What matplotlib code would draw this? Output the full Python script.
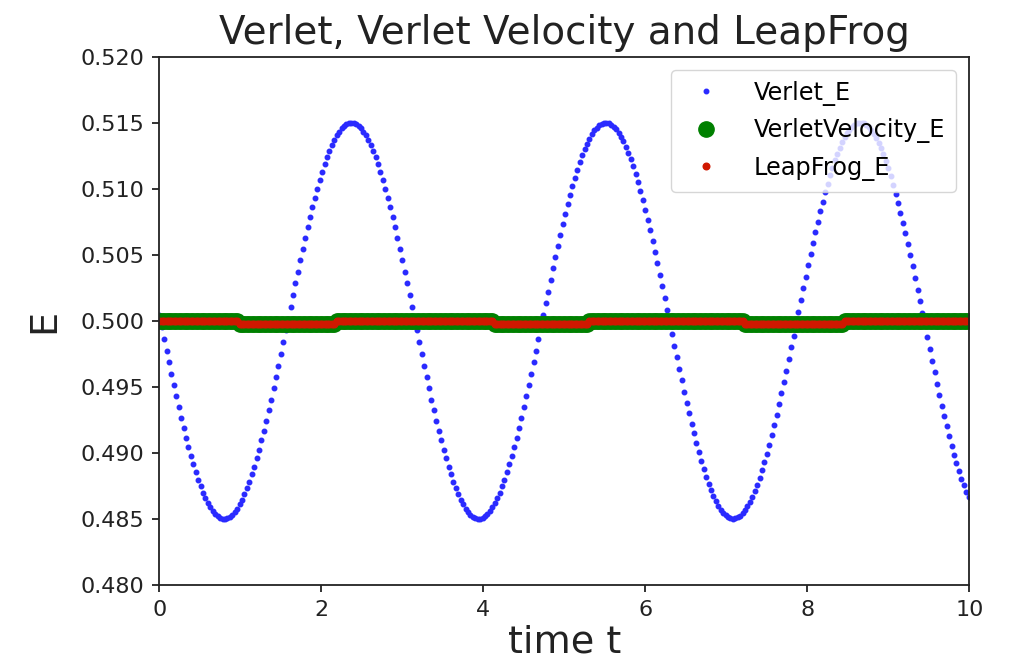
import numpy as np
import matplotlib
matplotlib.use("Agg")
import matplotlib.pyplot as plt

# energy samples, one every dt in time
dt = 0.03
verlet_E = [
    0.50041, 0.49951, 0.49862, 0.49772, 0.49684, 0.49596, 0.49510, 0.49426, 0.49344, 0.49264,
    0.49187, 0.49113, 0.49042, 0.48975, 0.48911, 0.48851, 0.48795, 0.48744, 0.48697, 0.48654,
    0.48617, 0.48585, 0.48557, 0.48535, 0.48518, 0.48507, 0.48501,
    0.48500, 0.48505, 0.48515, 0.48530, 0.48551, 0.48577, 0.48608, 0.48644, 0.48685, 0.48730,
    0.48781, 0.48835, 0.48894, 0.48957, 0.49023, 0.49093, 0.49166, 0.49243, 0.49322, 0.49403,
    0.49487, 0.49572, 0.49659, 0.49747, 0.49837, 0.49926,
    0.50016, 0.50106, 0.50196, 0.50285, 0.50372, 0.50459, 0.50544, 0.50626, 0.50707, 0.50785,
    0.50860, 0.50932, 0.51001, 0.51066, 0.51128, 0.51185, 0.51238, 0.51287, 0.51331, 0.51370,
    0.51404, 0.51433, 0.51457, 0.51476, 0.51489, 0.51497, 0.51500,
    0.51497, 0.51489, 0.51476, 0.51457, 0.51433, 0.51404, 0.51370, 0.51331, 0.51287, 0.51238,
    0.51185, 0.51128, 0.51066, 0.51001, 0.50932, 0.50860, 0.50785, 0.50707, 0.50626, 0.50544,
    0.50459, 0.50372, 0.50284, 0.50196, 0.50106, 0.50016,
    0.49926, 0.49836, 0.49747, 0.49659, 0.49572, 0.49487, 0.49403, 0.49322, 0.49243, 0.49166,
    0.49093, 0.49023, 0.48957, 0.48894, 0.48835, 0.48780, 0.48730, 0.48685, 0.48644, 0.48608,
    0.48577, 0.48551, 0.48530, 0.48515, 0.48505, 0.48500,
    0.48501, 0.48507, 0.48518, 0.48535, 0.48557, 0.48585, 0.48617, 0.48654, 0.48697, 0.48744,
    0.48795, 0.48851, 0.48911, 0.48975, 0.49042, 0.49113, 0.49187, 0.49264, 0.49344, 0.49426,
    0.49510, 0.49596, 0.49684, 0.49772, 0.49862, 0.49951,
    0.50041, 0.50131, 0.50221, 0.50309, 0.50397, 0.50483, 0.50567, 0.50649, 0.50729, 0.50807,
    0.50881, 0.50952, 0.51020, 0.51084, 0.51145, 0.51201, 0.51253, 0.51300, 0.51342, 0.51380,
    0.51413, 0.51441, 0.51463, 0.51481, 0.51493, 0.51499,
    0.51500, 0.51496, 0.51486, 0.51471, 0.51451, 0.51425, 0.51395, 0.51359, 0.51319, 0.51273,
    0.51224, 0.51169, 0.51111, 0.51048, 0.50982, 0.50913, 0.50840, 0.50763, 0.50685, 0.50603,
    0.50520, 0.50435, 0.50348, 0.50260, 0.50171, 0.50081,
    0.49991, 0.49901, 0.49811, 0.49723, 0.49635, 0.49548, 0.49463, 0.49380, 0.49299, 0.49221,
    0.49146, 0.49073, 0.49004, 0.48939, 0.48877, 0.48819, 0.48766, 0.48717, 0.48673, 0.48633,
    0.48599, 0.48569, 0.48545, 0.48526, 0.48512, 0.48503, 0.48500,
    0.48502, 0.48510, 0.48523, 0.48541, 0.48565, 0.48593, 0.48627, 0.48666, 0.48710, 0.48758,
    0.48811, 0.48867, 0.48928, 0.48993, 0.49062, 0.49134, 0.49209, 0.49287, 0.49367, 0.49450,
    0.49534, 0.49621, 0.49708, 0.49797, 0.49887, 0.49977,
    0.50067, 0.50156, 0.50246, 0.50334, 0.50421, 0.50507, 0.50590, 0.50672, 0.50751, 0.50828,
    0.50901, 0.50972, 0.51038, 0.51101, 0.51160, 0.51215, 0.51266, 0.51312, 0.51353, 0.51390,
    0.51421, 0.51447, 0.51468, 0.51484, 0.51495, 0.51500,
    0.51500, 0.51494, 0.51483, 0.51466, 0.51445, 0.51418, 0.51386, 0.51349, 0.51307, 0.51260,
    0.51209, 0.51154, 0.51094, 0.51031, 0.50963, 0.50893, 0.50819, 0.50742, 0.50662, 0.50580,
    0.50496, 0.50411, 0.50323, 0.50235, 0.50146, 0.50056,
    0.49966, 0.49876, 0.49786, 0.49698, 0.49610, 0.49524, 0.49440, 0.49357, 0.49277, 0.49199,
    0.49125, 0.49053, 0.48985, 0.48921, 0.48860, 0.48804, 0.48752, 0.48704, 0.48661,
]

# velocity verlet / leapfrog stay flat, only a tiny step down now and then
vv_levels = [0.50000, 0.49975, 0.50000, 0.49975, 0.50000, 0.49975, 0.50000]
vv_counts = [33, 40, 65, 39, 64, 41, 52]
lf_levels = [0.50000, 0.49975, 0.50000, 0.49975, 0.50000, 0.49975, 0.50000]
lf_counts = [33, 40, 65, 39, 64, 41, 52]

t = np.arange(len(verlet_E)) * dt
vv_E = np.repeat(vv_levels, vv_counts)
lf_E = np.repeat(lf_levels, lf_counts)

fig = plt.figure(figsize=(10.09, 6.70), dpi=100)
ax = fig.add_axes([0.1579, 0.1273, 0.8028, 0.7881])

ax.plot(t, verlet_E, ".", color="#2a2aff", markersize=6.5, label="Verlet_E")
ax.plot(t, vv_E, "go", markersize=11, label="VerletVelocity_E")
ax.plot(t, lf_E, ".", color="#d01800", markersize=9.5, label="LeapFrog_E")

ax.set_xlim(0, 10)
ax.set_ylim(0.48, 0.52)
ax.set_yticks(np.arange(0.480, 0.5201, 0.005))
ax.tick_params(labelsize=16, length=5, width=1.3, pad=6, colors="#222222")
for s in ax.spines.values():
    s.set_linewidth(1.3)
    s.set_color("#222222")

ax.set_title("Verlet, Verlet Velocity and LeapFrog", fontsize=28, pad=9, color="#222222")
ax.set_xlabel("time t", fontsize=27.5, labelpad=3, color="#222222")
ax.set_ylabel("E", fontsize=27.5, labelpad=13, color="#222222")
ax.legend(loc="upper right", fontsize=17.3, borderaxespad=0.55, labelspacing=0.52,
          borderpad=0.45, handletextpad=1.0)

fig.savefig("out.png", dpi=100)
